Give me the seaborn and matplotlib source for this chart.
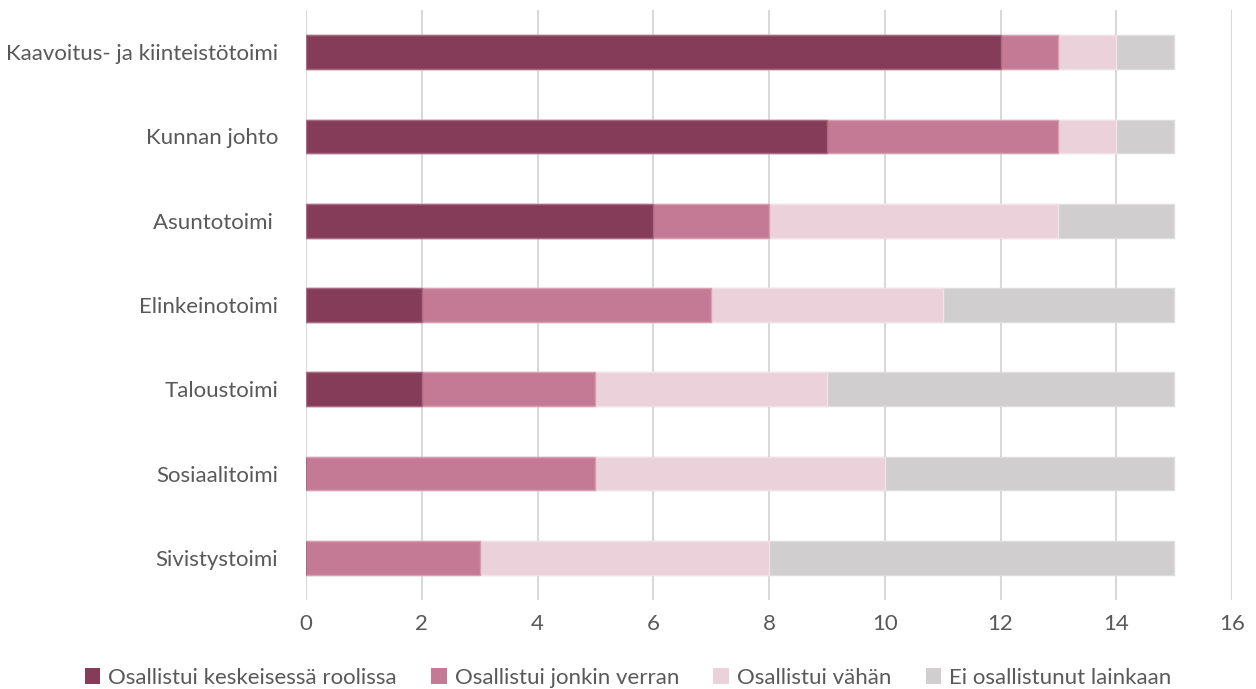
import matplotlib
matplotlib.use("Agg")
import matplotlib.pyplot as plt
import seaborn as sns
import pandas as pd
import numpy as np
from matplotlib.patches import Patch

categories = ["Kaavoitus- ja kiinteistötoimi", "Kunnan johto", "Asuntotoimi ",
              "Elinkeinotoimi", "Taloustoimi", "Sosiaalitoimi", "Sivistystoimi"]
series_names = ["Osallistui keskeisessä roolissa", "Osallistui jonkin verran",
                "Osallistui vähän", "Ei osallistunut lainkaan"]
keskeinen = [12, 9, 6, 2, 2, 0, 0]
jonkin = [1, 4, 2, 5, 3, 5, 3]
vahan = [1, 1, 5, 4, 4, 5, 5]
ei = [1, 1, 2, 4, 6, 5, 7]
colors = ["#843C58", "#C47A94", "#EAD1DA", "#D0CECE"]
edges = ["#A86A82", "#D69FB2", "#F2E2E8", "#DEDDDD"]
xticks = [0, 2, 4, 6, 8, 10, 12, 14, 16]

sns.set_theme(style="white")
plt.rcParams['font.family'] = ['Lato', 'DejaVu Sans']

fig = plt.figure(figsize=(12.56, 6.89), dpi=100)
ax = fig.add_axes([306/1256, 1-600/689, (1232-306)/1256, 590/689])

vals = np.array([keskeinen, jonkin, vahan, ei], dtype=float)
cum = np.cumsum(vals, axis=0)
df = pd.DataFrame({"cat": categories})
for i in range(3, -1, -1):
    df["v"] = cum[i]
    sns.barplot(data=df, y="cat", x="v", orient="h", color=colors[i],
                width=0.4, ax=ax, saturation=1, edgecolor=edges[i], linewidth=1.0,
                order=categories)

ax.set_xlim(0, 16)
ax.set_ylim(6.5, -0.5)
ax.set_xticks(xticks)
ax.set_xticklabels([str(t) for t in xticks])
ax.grid(axis="x", color="#D9D9D9", linewidth=1.5)
ax.set_axisbelow(True)
for s in ax.spines.values():
    s.set_visible(False)
ax.set_xlabel("")
ax.set_ylabel("")
ax.tick_params(axis="y", length=0, pad=20, labelsize=16, labelcolor="#595959")
ax.tick_params(axis="x", length=0, pad=10, labelsize=16, labelcolor="#595959")

handles = [Patch(facecolor=colors[i], edgecolor="none") for i in range(4)]
fig.legend(handles, series_names, loc="lower center", bbox_to_anchor=(0.5, -0.027),
           ncol=4, frameon=False, fontsize=16, labelcolor="#595959",
           handlelength=0.7, handleheight=0.7, handletextpad=0.35, columnspacing=1.55)

fig.savefig("out.png", dpi=100)
